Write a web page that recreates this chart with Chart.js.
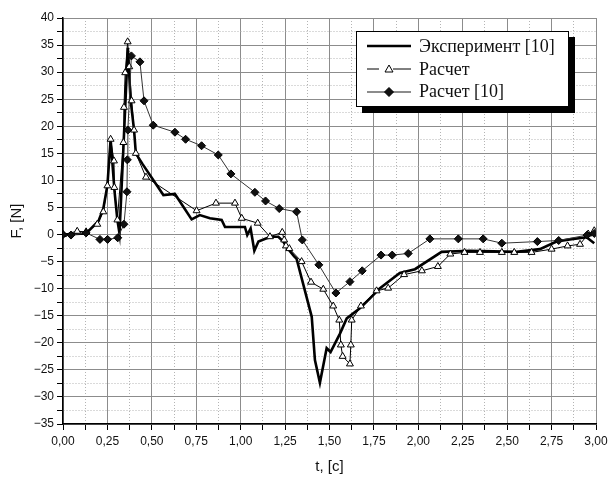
<!DOCTYPE html>
<html>
<head>
<meta charset="utf-8">
<script src="https://cdn.jsdelivr.net/npm/chart.js@4/dist/chart.umd.min.js"></script>
<style>
  body { margin: 0; background: #fff; }
  #wrap { position: relative; width: 612px; height: 479px; }
  #legend {
    position: absolute; left: 356px; top: 31px; width: 213px; height: 76px;
    border: 1px solid #000; background: #fff; box-shadow: 6px 6px 0 #000;
    font-family: "Liberation Serif", "Times New Roman", serif; font-size: 18px; color: #111;
    padding-top: 3px; box-sizing: border-box;
  }
  .row { display: flex; align-items: center; height: 22.7px; }
  .row svg { margin-left: 10px; margin-right: 8px; }
</style>
</head>
<body>
<div id="wrap">
  <canvas id="chart" width="612" height="479"></canvas>
  <div id="legend"></div>
</div>
<script>
// Эксперимент [10]
const expT = [0, 0.13, 0.2, 0.227, 0.25, 0.268, 0.29, 0.306, 0.318, 0.34, 0.365, 0.38, 0.4, 0.41, 0.448, 0.565,
  0.63, 0.724, 0.77, 0.827, 0.893, 0.912, 0.986, 1.024, 1.037, 1.056, 1.077, 1.1, 1.146, 1.183, 1.212, 1.24,
  1.258, 1.3, 1.315, 1.4, 1.418, 1.446, 1.484, 1.506, 1.559, 1.597, 1.671, 1.728, 1.784, 1.896, 1.981, 2.131,
  2.29, 2.553, 2.684, 2.778, 2.853, 2.947, 2.99];
const expF = [0, 0.2, 2.5, 4.8, 9.1, 17.6, 8, 2.7, 0.2, 16, 34.5, 25, 19.3, 15, 13, 7.3,
  7.5, 2.8, 3.6, 3.0, 2.7, 1.4, 1.4, 1.4, -0.1, 1.1, -3.0, -1.3, -0.7, -0.4, -0.4, -1.3,
  -2.3, -4.0, -4.5, -15.2, -23.2, -27.4, -21.0, -21.7, -18.3, -15.5, -13.6, -11.8, -9.9, -7.1, -6.4, -3.2,
  -3.0, -3.2, -2.7, -1.3, -0.9, -0.5, -1.6];

// Расчет
const calcT = [0, 0.08, 0.13, 0.193, 0.227, 0.25, 0.268, 0.287, 0.289, 0.306, 0.34, 0.343, 0.35, 0.364, 0.373,
  0.386, 0.4, 0.41, 0.467, 0.752, 0.861, 0.968, 1.006, 1.096, 1.165, 1.234, 1.245, 1.255, 1.274, 1.343, 1.396,
  1.465, 1.521, 1.555, 1.564, 1.574, 1.615, 1.62, 1.625, 1.677, 1.765, 1.83, 1.92, 2.02, 2.11, 2.18, 2.26,
  2.347, 2.47, 2.54, 2.637, 2.75, 2.84, 2.91, 2.956, 2.99];
const calcF = [0, 0.6, 0.5, 1.9, 4.2, 9.0, 17.6, 13.6, 8.7, 2.7, 17.0, 23.5, 29.9, 35.6, 31.0,
  24.7, 19.3, 15.0, 10.6, 4.4, 5.8, 5.8, 3.0, 2.1, -0.4, 0.4, -1.0, -2.1, -2.6, -5.0, -8.8,
  -10.1, -13.2, -15.8, -20.4, -22.5, -23.9, -20.4, -15.8, -13.2, -10.4, -9.9, -7.4, -6.7, -5.9, -3.6, -3.3,
  -3.3, -3.3, -3.3, -3.3, -2.7, -2.1, -1.8, 0.1, 0.7];

// Расчет [10]
const refT = [0, 0.045, 0.13, 0.208, 0.251, 0.308, 0.343, 0.36, 0.362, 0.365, 0.385, 0.433, 0.456, 0.508, 0.63,
  0.69, 0.78, 0.874, 0.945, 1.08, 1.14, 1.217, 1.315, 1.347, 1.44, 1.536, 1.615, 1.684, 1.79, 1.853, 1.943,
  2.065, 2.225, 2.365, 2.47, 2.67, 2.79, 2.95, 2.99];
const refF = [0, -0.1, 0.3, -0.9, -0.9, -0.6, 1.9, 7.9, 13.8, 19.3, 33.0, 31.9, 24.7, 20.2, 18.9,
  17.6, 16.4, 14.7, 11.2, 7.8, 6.2, 4.8, 4.2, -1.0, -5.6, -10.8, -8.7, -6.7, -3.8, -3.8, -3.5,
  -0.8, -0.8, -0.8, -1.6, -1.3, -1.1, -0.1, 0.2];

const seriesLabels = ['Эксперимент [10]', 'Расчет', 'Расчет [10]'];
const xTitle = 't, [c]';
const yTitle = 'F, [N]';

const pts = (ts, fs) => ts.map((t, i) => ({ x: t, y: fs[i] }));

const isMajor = (v, step) => Math.abs(v / step - Math.round(v / step)) < 1e-9;
const gridColor = (step) => (c) => (c.tick && isMajor(c.tick.value, step) ? '#8c8c8c' : '#b4b4b4');
const gridDash = (step) => (c) => (c.tick && !isMajor(c.tick.value, step) ? [1, 2] : []);

const tickFont = { family: 'Liberation Sans', size: 12 };
const titleFont = { family: 'Liberation Sans', size: 15 };

new Chart(document.getElementById('chart'), {
  type: 'line',
  data: {
    datasets: [
      {
        label: seriesLabels[2],
        data: pts(refT, refF),
        borderColor: '#333',
        borderWidth: 1,
        pointStyle: 'rectRot',
        pointRadius: 4,
        pointBackgroundColor: '#111',
        pointBorderColor: '#000',
        pointBorderWidth: 1,
        tension: 0,
      },
      {
        label: seriesLabels[1],
        data: pts(calcT, calcF),
        borderColor: '#000',
        borderWidth: 1,
        pointStyle: 'triangle',
        pointRadius: 4,
        pointBackgroundColor: '#fff',
        pointBorderColor: '#000',
        pointBorderWidth: 1,
        tension: 0,
      },
      {
        label: seriesLabels[0],
        data: pts(expT, expF),
        borderColor: '#000',
        borderWidth: 2.6,
        pointRadius: 0,
        tension: 0,
      },
    ],
  },
  options: {
    responsive: false,
    animation: false,
    layout: { padding: { left: 4, top: 18, right: 16, bottom: 0 } },
    plugins: { legend: { display: false }, tooltip: { enabled: false } },
    scales: {
      x: {
        type: 'linear',
        min: 0,
        max: 3,
        afterFit: (s) => { s.height = 55; },
        ticks: {
          stepSize: 0.125,
          autoSkip: false,
          maxRotation: 0,
          color: '#111',
          font: tickFont,
          padding: 4,
          callback: (v) => (isMajor(v, 0.25) ? v.toFixed(2).replace('.', ',') : ''),
        },
        grid: { color: gridColor(0.25), tickColor: '#000', tickLength: 6 },
        border: { color: '#000', width: 1.5, dash: gridDash(0.25) },
        title: { display: true, text: xTitle, color: '#111', font: titleFont, padding: { top: 0, bottom: 3 } },
      },
      y: {
        min: -35,
        max: 40,
        afterFit: (s) => { s.width = 59; },
        ticks: {
          stepSize: 2.5,
          autoSkip: false,
          color: '#111',
          font: tickFont,
          padding: 3,
          callback: (v) => (isMajor(v, 5) ? (v < 0 ? '\u2212' + Math.abs(v) : String(v)) : ''),
        },
        grid: { color: gridColor(5), tickColor: '#000', tickLength: 6 },
        border: { color: '#000', width: 1.5, dash: gridDash(5) },
        title: { display: true, text: yTitle, color: '#111', font: titleFont, padding: { top: 4, bottom: 0 } },
      },
    },
  },
});

// legend box with shadow, like the original figure
const legendEl = document.getElementById('legend');
const samples = [
  '<line x1="0" y1="6" x2="44" y2="6" stroke="#000" stroke-width="2.6"/>',
  '<line x1="0" y1="6" x2="12" y2="6" stroke="#000"/><line x1="26" y1="6" x2="44" y2="6" stroke="#000"/>' +
    '<polygon points="22,2 26,9 18,9" fill="#fff" stroke="#000"/>',
  '<line x1="0" y1="6" x2="44" y2="6" stroke="#666" stroke-width="1.4"/>' +
    '<polygon points="22,1.5 26.5,6 22,10.5 17.5,6" fill="#111" stroke="#000"/>',
];
seriesLabels.forEach((label, i) => {
  const row = document.createElement('div');
  row.className = 'row';
  row.innerHTML = '<svg width="44" height="12">' + samples[i] + '</svg><span>' + label + '</span>';
  legendEl.appendChild(row);
});
</script>
</body>
</html>
